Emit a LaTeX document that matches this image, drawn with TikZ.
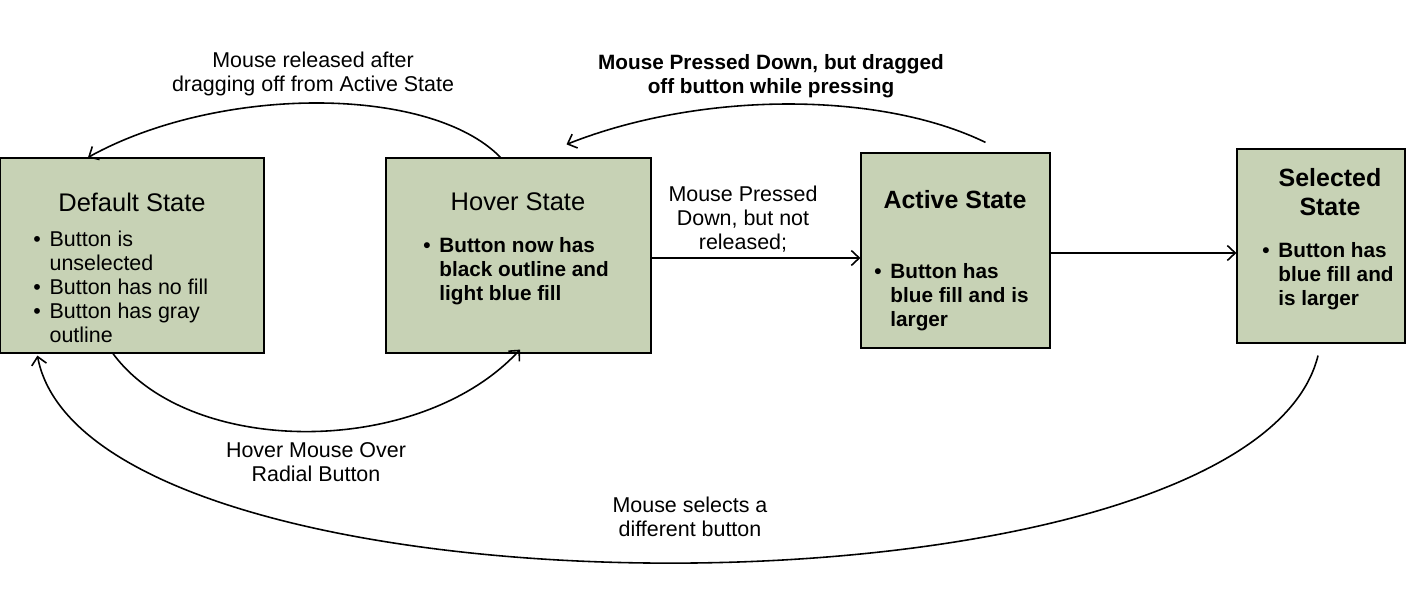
\documentclass[tikz,border=0pt]{standalone}
\usepackage{fontspec}
\setmainfont{Liberation Sans}
\usetikzlibrary{calc,arrows.meta}
\definecolor{stategreen}{RGB}{199,210,181}

\begin{document}
\begin{tikzpicture}[
    x=0.02cm, y=-0.02cm,
    state/.style={draw=black, line width=0.7pt, fill=stategreen, inner sep=0pt},
    title/.style={font=\fontsize{14.5}{16.5}\selectfont, align=center, inner sep=0pt},
    items/.style={font=\fontsize{12.2}{13.7}\selectfont, anchor=base west, inner sep=0pt},
    bolditems/.style={items, font=\fontsize{11.8}{13.7}\selectfont\bfseries},
    lbl/.style={font=\fontsize{12.2}{13.7}\selectfont, align=center, inner sep=0pt},
    link/.style={-{Straight Barb[length=4.5pt,width=8.5pt]}, line width=0.9pt}
]
\useasboundingbox (0,0) rectangle (1406,611);

% the four states
\node[state, minimum width=5.28cm, minimum height=3.9cm] (def) at (132,255.5) {};
\node[state, minimum width=5.3cm, minimum height=3.9cm] (hov) at (518.5,255.5) {};
\node[state, minimum width=3.78cm, minimum height=3.9cm] (act) at (955.5,250.5) {};
\node[state, minimum width=3.36cm, minimum height=3.88cm] (sel) at (1321,246) {};

\node[title] (defTitle) at (132,202) {Default State};
\node[title] (hovTitle) at (518,202) {Hover State};
\node[title, font=\fontsize{14.2}{16.5}\selectfont\bfseries] (actTitle) at (955,200) {Active State};
\node[title, font=\fontsize{14.2}{16.5}\selectfont\bfseries] (selTitle) at (1330,192.5) {Selected\\State};

\node[items] (defItems) at (33,246.5) {\begin{tabular}[t]{@{}c@{\hspace{5pt}}l@{}}
  \textbullet & Button is\\ & unselected\\
  \textbullet & Button has no fill\\
  \textbullet & Button has gray\\ & outline
\end{tabular}};
\node[bolditems] (hovItems) at (423,252.5) {\begin{tabular}[t]{@{}c@{\hspace{5pt}}l@{}}
  \textbullet & Button now has\\ & black outline and\\ & light blue fill
\end{tabular}};
\node[bolditems] (actItems) at (874,278.5) {\begin{tabular}[t]{@{}c@{\hspace{5pt}}l@{}}
  \textbullet & Button has\\ & blue fill and is\\ & larger
\end{tabular}};
\node[bolditems] (selItems) at (1262,257.5) {\begin{tabular}[t]{@{}c@{\hspace{5pt}}l@{}}
  \textbullet & Button has\\ & blue fill and\\ & is larger
\end{tabular}};

% transitions
\draw[link] ($(hov.north)+(-18,0)$) .. controls (430,85) and (219,85) .. ($(def.north)+(-44,0)$);
\draw[link] ($(act.north)+(30,-10)$) .. controls (880,91) and (701,91) .. ($(hov.north)+(48,-13)$);
\draw[link] ($(hov.east)+(0,2.5)$) -- ($(hov.east -| act.west)+(0,2.5)$);
\draw[link] ($(act.east)+(0,2.5)$) -- ($(act.east -| sel.west)+(0,2.5)$);
\draw[link] ($(def.south)+(-19,0)$) .. controls (190,458) and (420,458) .. ($(hov.south)+(1.5,-4)$);
\draw[link] ($(sel.south)+(-3,12)$) .. controls (1250,632) and (90,632) .. ($(def.south west)+(38,2)$);

\node[lbl] (relLabel) at (313,74) {Mouse released after\\dragging off from Active State};
\node[lbl, font=\fontsize{11.8}{13.7}\selectfont\bfseries] (dragLabel) at (771,76) {Mouse Pressed Down, but dragged\\off button while pressing};
\node[lbl] (pressLabel) at (743,219.5) {Mouse Pressed\\Down, but not\\released;};
\node[lbl] (hoverLabel) at (316,462) {Hover Mouse Over\\Radial Button};
\node[lbl] (selectLabel) at (690,517) {Mouse selects a\\different button};

\end{tikzpicture}
\end{document}
